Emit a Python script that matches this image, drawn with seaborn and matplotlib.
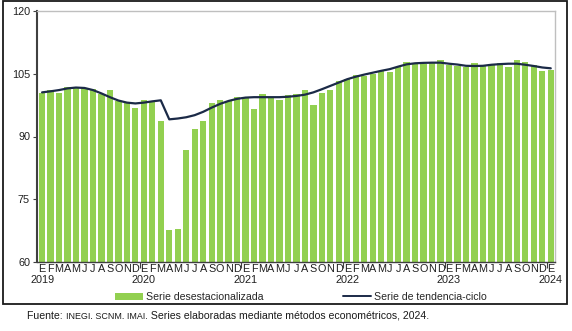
import numpy as np
import pandas as pd
import matplotlib
matplotlib.use("Agg")
import matplotlib.pyplot as plt
from matplotlib.patches import Rectangle, Patch
from matplotlib.lines import Line2D
import seaborn as sns

# ---- data ----
month_letters = ["E", "F", "M", "A", "M", "J", "J", "A", "S", "O", "N", "D"]
years = ["2019", "2020", "2021", "2022", "2023", "2024"]

serie_desest = [
    # 2019
    100.3, 101.1, 100.3, 101.8, 101.8, 101.6, 101.4, 100.2, 101.1, 98.5, 97.9, 96.9,
    # 2020
    98.8, 98.4, 93.8, 67.6, 68.0, 86.8, 91.8, 93.7, 98.1, 98.7, 98.6, 99.4,
    # 2021
    99.4, 96.6, 100.2, 99.1, 98.7, 99.9, 100.1, 101.1, 97.5, 100.3, 101.1, 103.3,
    # 2022
    103.7, 104.7, 104.5, 104.9, 105.7, 105.3, 106.5, 107.7, 107.3, 107.3, 107.5, 108.3,
    # 2023
    107.1, 106.85, 106.5, 107.5, 106.85, 107.25, 107.5, 106.5, 108.3, 107.8, 107.1, 105.7,
    # 2024
    105.9,
]

serie_tendencia = [
    # 2019
    100.55, 100.8, 101.1, 101.5, 101.7, 101.6, 101.1, 100.3, 99.4, 98.6, 98.1, 97.9,
    # 2020
    98.1, 98.4, 98.65, 94.1, 94.3, 94.6, 95.1, 95.9, 96.9, 97.8, 98.5, 99.0,
    # 2021
    99.3, 99.4, 99.4, 99.4, 99.4, 99.5, 99.7, 100.0, 100.55, 101.3, 102.1, 102.9,
    # 2022
    103.7, 104.3, 104.8, 105.25, 105.7, 106.1, 106.7, 107.25, 107.5, 107.6, 107.65, 107.65,
    # 2023
    107.4, 107.2, 106.9, 106.85, 106.9, 107.15, 107.3, 107.4, 107.4, 107.15, 106.85, 106.5,
    # 2024
    106.3,
]

y_ticks = [60, 75, 90, 105, 120]

n = len(serie_desest)
month_labels = [month_letters[i % 12] for i in range(n)]
df = pd.DataFrame({"idx": list(range(n)), "valor": serie_desest, "tend": serie_tendencia})

# ---- style ----
sns.set_style("white")
plt.rcParams["font.family"] = ["Liberation Sans", "DejaVu Sans"]

FS = 7.8
W, H = 572, 331
fig = plt.figure(figsize=(W / 100, H / 100), dpi=100)
ax = fig.add_axes([37 / W, 1 - 262 / H, (555 - 37) / W, (262 - 11) / H])

bar_color = "#92D050"
line_color = "#1B2A47"

sns.barplot(data=df, x="idx", y="valor", color=bar_color, width=0.74,
            saturation=1, ax=ax, edgecolor="none")
sns.lineplot(x=df["idx"], y=df["tend"], color=line_color, linewidth=1.6, ax=ax)

ax.set_ylim(60, 120)
ax.set_xlim(-0.6, n - 0.5)
ax.set_yticks(y_ticks)
ax.set_yticklabels([str(v) for v in y_ticks], fontsize=FS, color="#202020")
ax.set_xticks(range(n))
ax.set_xticklabels(month_labels, fontsize=FS, color="#202020")
ax.tick_params(axis="x", length=0, pad=1.5)
ax.tick_params(axis="y", length=3, width=0.8, color="#404040", pad=2, left=True)
ax.set_xticks([11.5 + 12 * k for k in range(5)], minor=True)
ax.tick_params(axis="x", which="minor", length=4, width=0.8, color="#404040", bottom=True)
ax.set_xlabel("")
ax.set_ylabel("")

for side in ["top", "right"]:
    ax.spines[side].set_color("#BFBFBF")
    ax.spines[side].set_linewidth(1.0)
ax.spines["left"].set_color("#404040")
ax.spines["left"].set_linewidth(1.5)
ax.spines["bottom"].set_color("#404040")
ax.spines["bottom"].set_linewidth(1.0)

# year labels under each January
for k, yr in enumerate(years):
    ax.text(12 * k, 1 - (280 - 11) / (262 - 11), yr, transform=ax.get_xaxis_transform(),
            ha="center", va="center", fontsize=FS, color="#202020")

# legend
handles = [Patch(facecolor=bar_color, edgecolor="none"),
           Line2D([0], [0], color=line_color, linewidth=1.4)]
labels = ["Serie desestacionalizada", "Serie de tendencia-ciclo"]
fig.legend(handles, labels, loc="center", bbox_to_anchor=(301 / W, 1 - 297 / H),
           ncol=2, frameon=False, fontsize=7.6, handlelength=2.6, handleheight=0.6,
           handletextpad=0.3, columnspacing=7.6)

# outer frame
fig.patches.append(Rectangle((3 / W, 1 - 304 / H), (567 - 3) / W, (304 - 1) / H,
                             transform=fig.transFigure, fill=False,
                             edgecolor="#1A1A1A", linewidth=1.3))

# footer text with small caps segment
fig.canvas.draw()
renderer = fig.canvas.get_renderer()
x_px = 27
y_fig = 1 - 319 / H
parts = [("Fuente: ", 7.6), ("INEGI. SCNM. IMAI", 6.4),
         (". Series elaboradas mediante métodos econométricos, 2024.", 7.6)]
for txt, fs in parts:
    t = fig.text(x_px / W, y_fig, txt, fontsize=fs, ha="left", va="baseline", color="#1A1A1A")
    bb = t.get_window_extent(renderer=renderer)
    x_px += bb.width

fig.savefig("out.png", dpi=100)
